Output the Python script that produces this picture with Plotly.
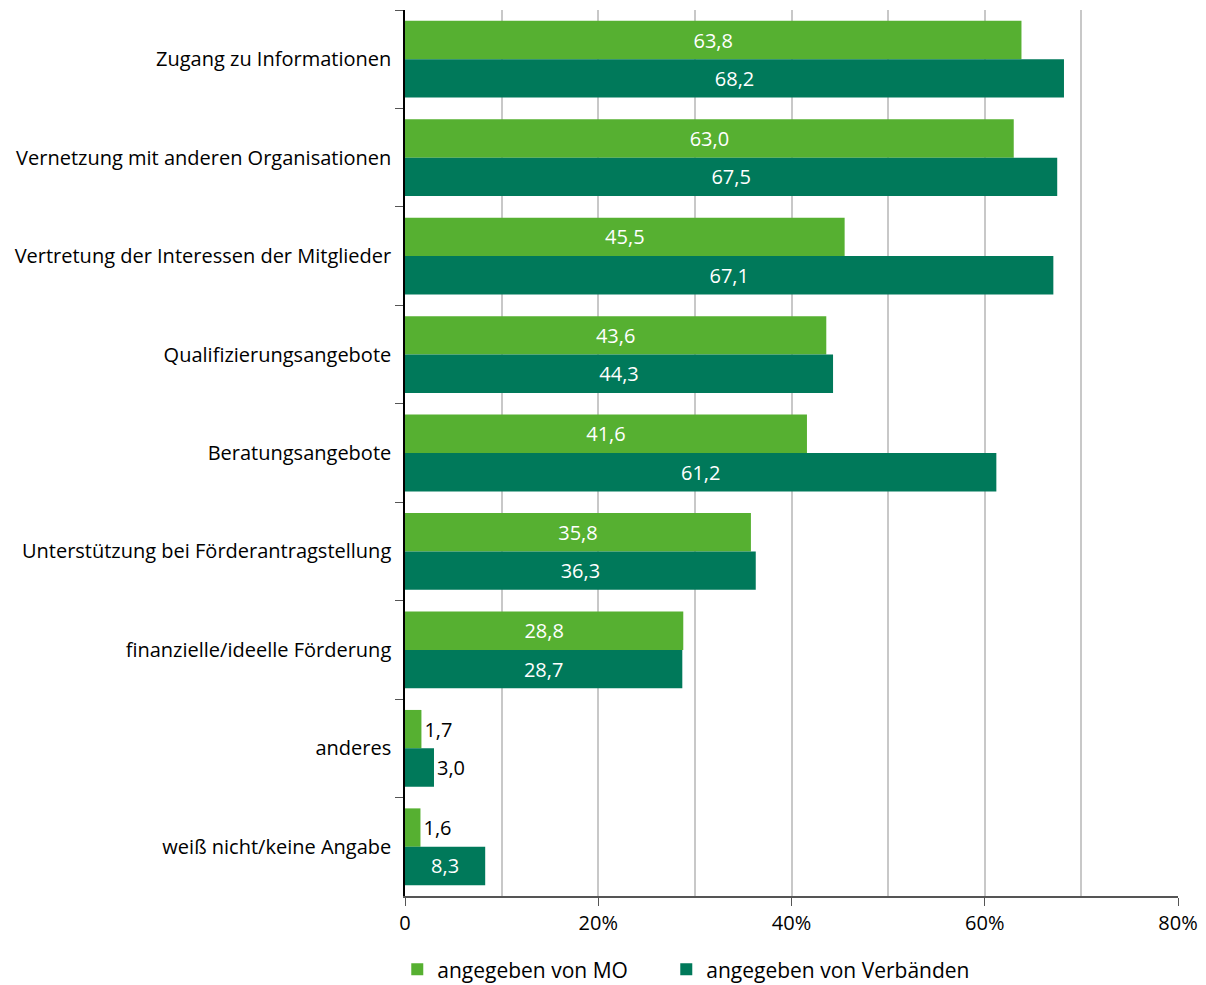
import plotly.graph_objects as go

categories = [
    "Zugang zu Informationen",
    "Vernetzung mit anderen Organisationen",
    "Vertretung der Interessen der Mitglieder",
    "Qualifizierungsangebote",
    "Beratungsangebote",
    "Unterstützung bei Förderantragstellung",
    "finanzielle/ideelle Förderung",
    "anderes",
    "weiß nicht/keine Angabe",
]
mo_values = [63.8, 63.0, 45.5, 43.6, 41.6, 35.8, 28.8, 1.7, 1.6]
verband_values = [68.2, 67.5, 67.1, 44.3, 61.2, 36.3, 28.7, 3.0, 8.3]
series_names = ["angegeben von MO", "angegeben von Verbänden"]
tick_values = [0, 20, 40, 60, 80]
tick_labels = ["0", "20%", "40%", "60%", "80%"]

colors = ["#56b031", "#00795a"]
FONT = "Open Sans"
SIZE = 20

def f(size=SIZE, color="black"):
    return dict(family=FONT, size=size, color=color)

fig = go.Figure()
legends = ["legend", "legend2"]
for name, vals, col, lg in zip(series_names, [mo_values, verband_values], colors, legends):
    fig.add_trace(go.Bar(
        y=categories, x=vals, name=name, orientation="h",
        marker=dict(color=col, line=dict(width=0)),
        texttemplate="%{x:.1f}", textposition="auto",
        insidetextanchor="middle",
        insidetextfont=f(color="white"),
        outsidetextfont=f(),
        cliponaxis=False, legend=lg,
    ))

fig.update_layout(
    width=1206, height=985,
    barmode="group", bargap=0.22, bargroupgap=0,
    separators=",.",
    plot_bgcolor="white", paper_bgcolor="white",
    margin=dict(l=405, r=28, t=10, b=89, autoexpand=False),
    font=f(),
    showlegend=True,
    legend=dict(orientation="h", x=-0.010, xanchor="left", y=-0.06, yanchor="top",
                font=f(21), itemwidth=30),
    legend2=dict(orientation="h", x=0.338, xanchor="left", y=-0.06, yanchor="top",
                 font=f(21), itemwidth=30),
)
fig.update_xaxes(
    range=[0, 80], tickvals=tick_values, ticktext=tick_labels,
    showgrid=True, gridcolor="#c8c8c8", gridwidth=2,
    minor=dict(dtick=10, tick0=0, showgrid=True, gridcolor="#c8c8c8", gridwidth=2, ticks=""),
    showline=True, linecolor="#555555", linewidth=2,
    ticks="outside", ticklen=8, tickcolor="#555555", tickwidth=1,
    zeroline=False, tickfont=f(), automargin=False,
)
fig.update_yaxes(
    autorange="reversed", showline=True, linecolor="black", linewidth=1.5,
    ticks="outside", tickson="boundaries", ticklen=8, tickcolor="#555555",
    showgrid=False, tickfont=f(), automargin=False,
    ticklabelstandoff=8,
)

fig.write_html("out.html", config={"displayModeBar": False},
               post_script="document.body.style.margin='0';")
